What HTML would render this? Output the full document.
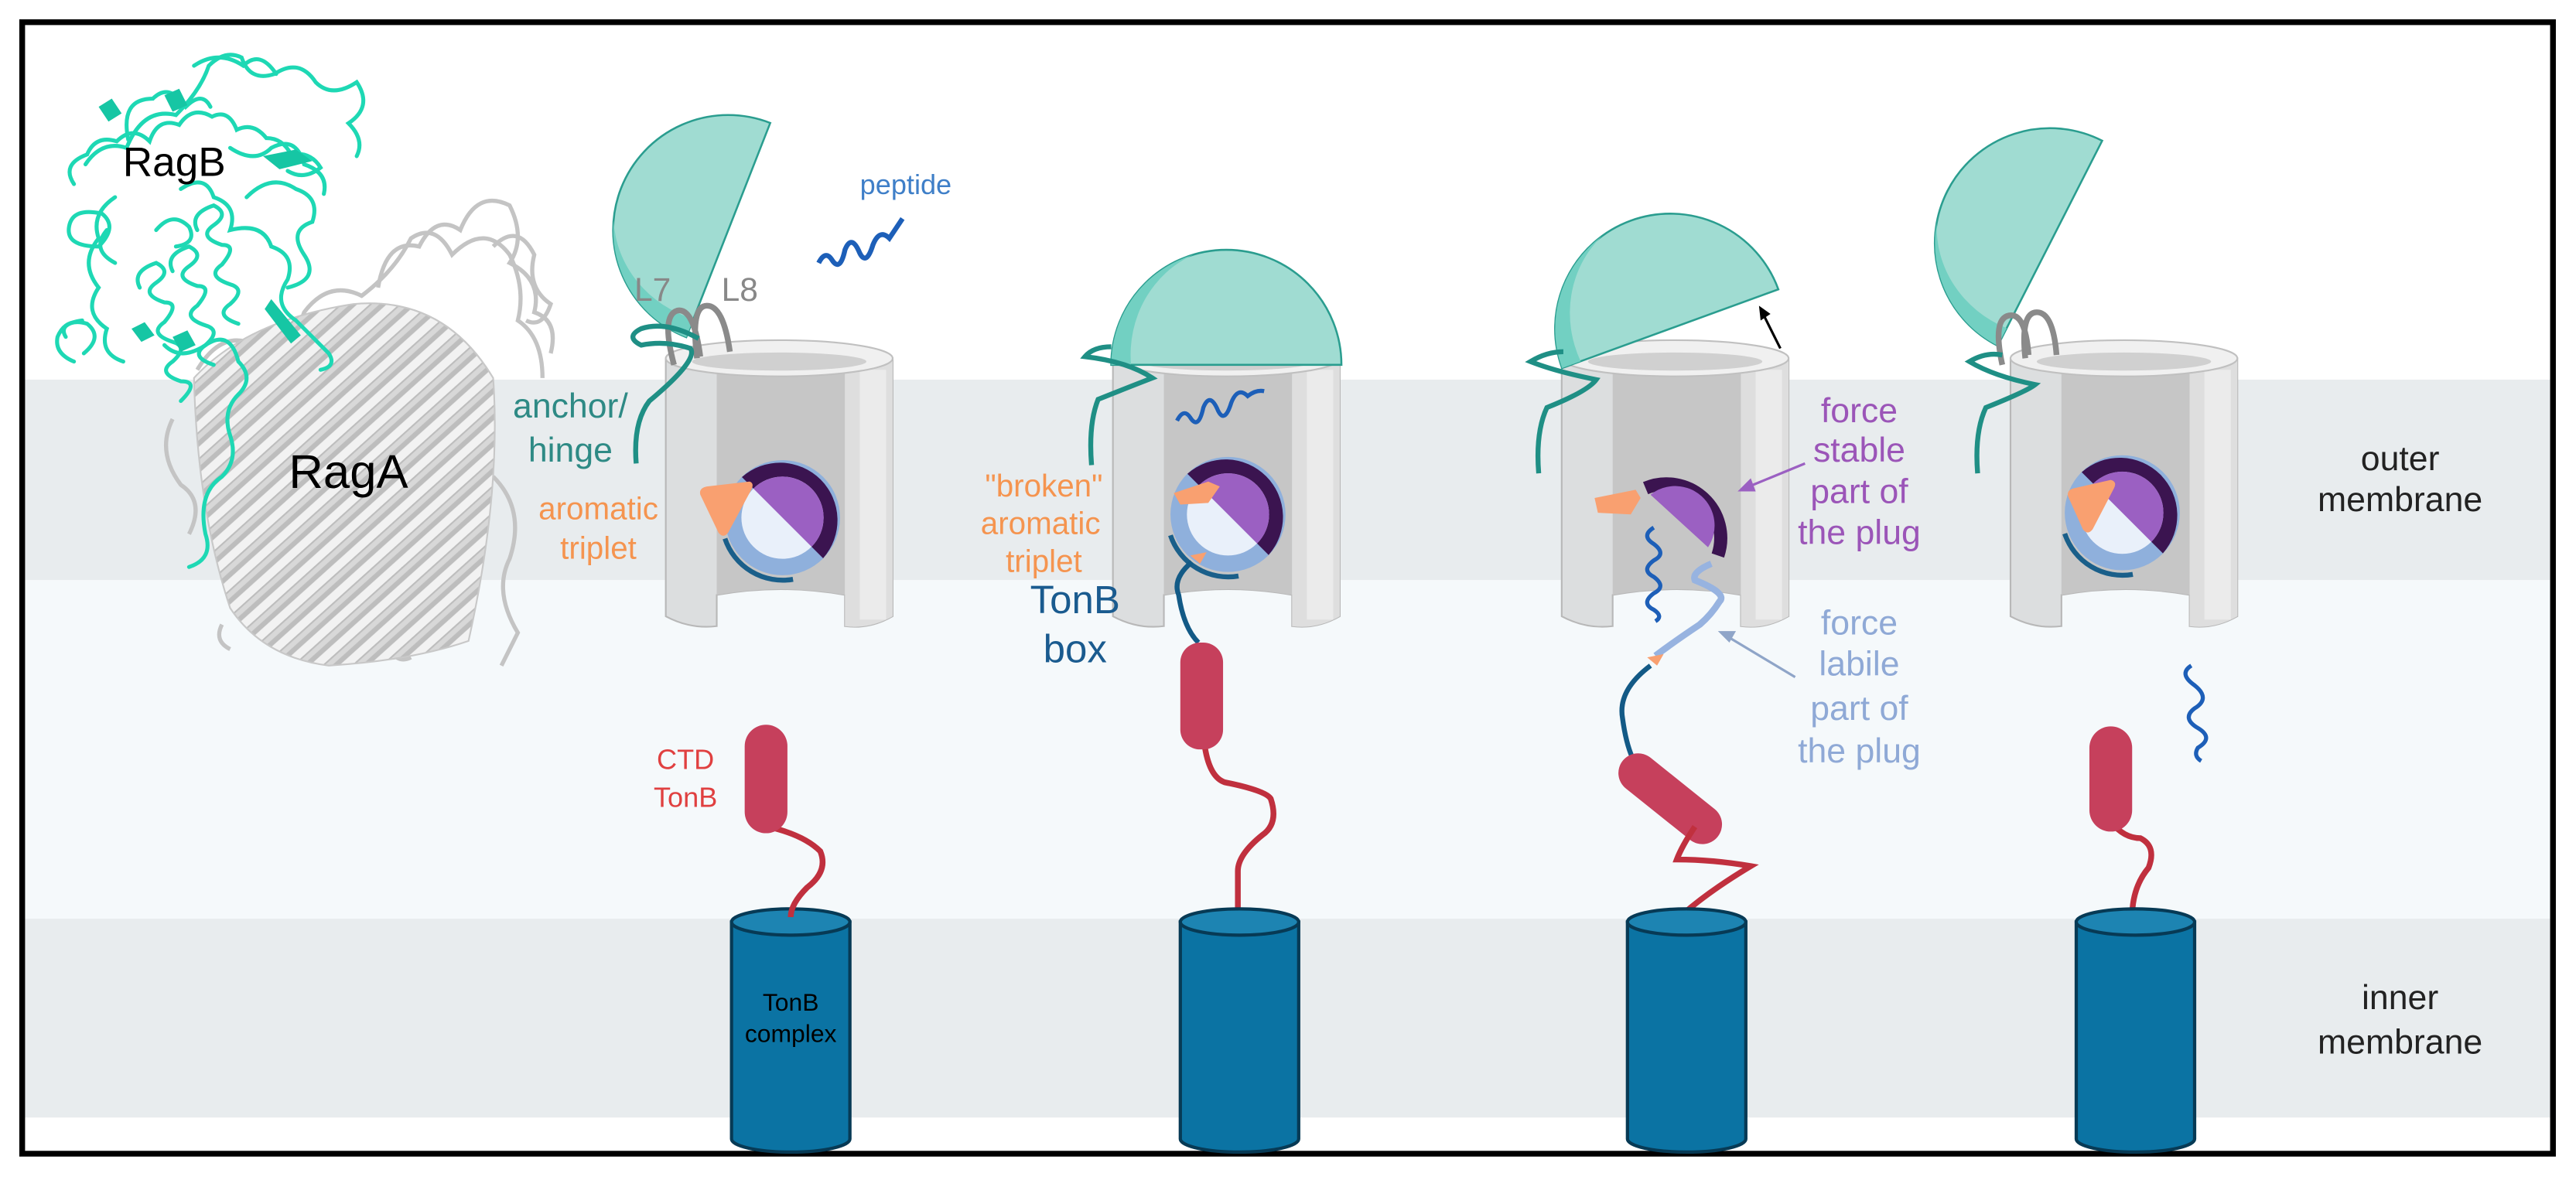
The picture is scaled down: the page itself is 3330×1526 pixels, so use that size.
<!DOCTYPE html>
<html><head><meta charset="utf-8"><style>
html,body{margin:0;padding:0;background:#fff;}
svg{display:block;}
text{font-family:"Liberation Sans",sans-serif;}
</style></head><body>
<svg width="3330" height="1526" viewBox="0 0 1567 718" preserveAspectRatio="none" xmlns="http://www.w3.org/2000/svg">
<defs>
<pattern id="strands" width="12" height="12" patternUnits="userSpaceOnUse" patternTransform="rotate(-42)">
<rect width="12" height="12" fill="#f2f2f2"/>
<rect width="12" height="7" fill="#bdbdbd"/>
<rect y="1" width="12" height="3" fill="#d8d8d8"/>
</pattern>
<g id="barrel">
<path d="M0 11 L0 168 Q15 176 31 174 L31 155 Q70 148 109 155 L109 174 Q124 176 138 168 L138 11 Z" fill="#dcdedf" stroke="#b8b8b8" stroke-width="1"/>
<path d="M31 16 L31 155 Q70 148 109 155 L109 16 Z" fill="#c6c6c6"/>
<path d="M109 16 L109 174 Q124 176 138 168 L138 11 Z" fill="#dedede"/>
<rect x="118" y="18" width="16" height="152" fill="#ebebeb"/>
<ellipse cx="69" cy="11" rx="69" ry="11" fill="#f0f0f0" stroke="#c0c0c0" stroke-width="1"/>
<ellipse cx="69" cy="13" rx="53" ry="5.5" fill="#d0d0d0"/>
</g>
<g id="plug">
<circle r="35" fill="#8fb0dc"/>
<path d="M-24.7 -24.7 A35 35 0 0 1 24.7 24.7 Z" fill="#3b1450"/>
<circle r="25" fill="#e9f0fa"/>
<path d="M-17.7 -17.7 A25 25 0 0 1 17.7 17.7 Z" fill="#9b60c2"/>
<path d="M-35 12.7 A37 37 0 0 0 6.4 37.5" fill="none" stroke="#1a5f8a" stroke-width="3"/>
</g>
<g id="lid">
<path d="M-70 0 A70 70 0 0 1 70 0 Z" fill="#a0dcd2" stroke="#2a9d8f" stroke-width="1.2"/>
<path d="M-70 0 A70 70 0 0 1 -20 -67 A62 66 0 0 0 -58 0 Z" fill="#72d0c2"/>
</g>
<g id="tonbcyl">
<path d="M0 8 L0 140 A36 8 0 0 0 72 140 L72 8 Z" fill="#0b73a3" stroke="#073a55" stroke-width="2"/>
<ellipse cx="36" cy="8" rx="36" ry="8" fill="#1d84b2" stroke="#073a55" stroke-width="2"/>
</g>
</defs>

<rect width="1567" height="718" fill="#fff"/>
<rect x="15" y="231" width="1537" height="122" fill="#e8ecee"/>
<rect x="15" y="353" width="1537" height="206" fill="#f5f9fb"/>
<rect x="15" y="559" width="1537" height="121" fill="#e8ecee"/>

<!-- RagA -->
<g fill="none" stroke="#c4c4c4" stroke-width="2.5">
<path d="M120 225 q15 -25 35 -15 q20 10 30 -20 q15 -20 35 -10 q20 -15 30 -35 q15 -10 25 10 q20 -20 35 0 q10 20 5 40 q15 10 15 35"/>
<path d="M230 175 q5 -30 25 -25 q10 -20 25 -10 q10 -25 30 -15 q10 20 0 35 q20 10 15 30 q15 5 10 25"/>
<path d="M300 150 q15 -15 25 5 q-5 20 10 30 q-5 15 -15 10"/>
<path d="M105 255 q-10 20 5 40 q15 10 5 30"/>
<path d="M300 290 q20 20 10 50 q-10 20 5 45 q-5 10 -10 20"/>
<path d="M250 400 q-10 5 -15 -10 M140 395 q-10 -5 -5 -15"/>
</g>
<path d="M118 230 Q150 195 215 185 Q270 180 300 230 Q305 300 285 390 Q250 402 200 405 Q160 400 140 370 Q120 310 118 230 Z" fill="url(#strands)" stroke="#c8c8c8" stroke-width="1"/>
<!-- RagB -->
<g fill="none" stroke="#1ed8b4" stroke-width="2.4" stroke-linecap="round">
<path d="M45 112 q-8 -12 8 -18 q5 -12 18 -8 q10 -10 20 0 q5 -15 18 -10 q8 -12 20 -5 q10 -5 15 8 q10 -5 18 5 q10 0 15 10 q12 -2 18 8 q-10 8 -20 2"/>
<path d="M52 100 q10 -15 25 -10 q10 -25 30 -20 q15 -15 20 -30 q10 -10 20 -5 q5 15 20 10 q15 -10 25 5 q10 10 25 0 q10 15 -5 25 q10 10 5 20"/>
<path d="M118 40 q15 -10 30 0 q10 -10 20 5 M78 85 q-5 -25 15 -25 q10 -10 20 5 q10 -10 15 0"/>
<path d="M60 150 q-20 0 -18 -12 q2 -12 20 -8 q10 8 -2 20 M70 160 q-15 -8 -5 -20"/>
<path d="M85 175 q-5 -10 10 -15 q10 5 0 12 q-10 7 5 12 q10 0 0 12 q-10 7 5 12 q10 3 0 12 q-10 7 5 12 q12 0 0 12"/>
<path d="M105 165 q-5 -10 10 -15 q10 5 0 12 q-10 7 5 12 q10 0 0 12 q-10 7 5 12 q10 3 0 12 q-10 7 5 12"/>
<path d="M120 140 q-5 -10 10 -15 q10 5 0 12 q-10 7 5 12 q10 0 0 12 q-10 7 5 12 q10 3 0 12 q-10 7 5 12"/>
<path d="M45 220 q-12 -5 -10 -15 q5 -12 18 -8 q10 8 -2 18 M40 205 q-5 -8 10 -10"/>
<path d="M110 115 q15 -10 20 5 q15 5 10 20 q20 -5 25 10 q15 5 10 20 q-10 15 5 25 l20 20 q5 8 -5 10"/>
<path d="M70 120 q-15 10 -10 25 q-12 15 0 30 q-10 15 5 25 q-5 15 10 20"/>
<path d="M150 120 q15 -15 30 -5 q15 5 10 20 q-15 5 -5 20 q10 15 -10 20"/>
<path d="M140 90 q15 10 25 0 q15 -8 20 10 q15 5 12 18"/>
<path d="M100 210 q10 10 25 0 q15 -10 20 10 q10 10 0 20 q-10 10 -5 25 q5 15 -5 25 q-15 10 -10 35 q5 15 -10 20"/>
<path d="M95 140 q10 -12 20 -2 q5 10 -8 12"/>
</g>
<g fill="#16c6a4"><path d="M60 65 l8 -5 l6 9 l-8 5Z M100 58 l9 -4 l5 10 l-9 4Z M160 95 l20 -4 l10 7 l-20 5Z M165 182 l18 22 l-6 5 l-16 -21Z M80 200 l8 -4 l6 8 l-8 4Z M105 205 l9 -4 l5 9 l-9 4Z"/></g>
<text x="106" y="107" font-size="25" fill="#000" text-anchor="middle">RagB</text>
<text x="212" y="297" font-size="29" fill="#000" text-anchor="middle">RagA</text>

<rect x="13.5" y="13.5" width="1539.5" height="688.5" fill="none" stroke="#000" stroke-width="3.5"/>

<!-- Unit 1 -->
<use href="#lid" transform="translate(443,140) rotate(-68.6)"/>
<use href="#barrel" x="405" y="207"/>
<g fill="none" stroke="#8a8a8a" stroke-width="3.5"><path d="M410 222 q-8 -30 2 -33 q10 -2 14 28 M424 218 q-4 -32 6 -32 q10 0 14 28"/></g>
<path d="M387 282 q-2 -25 8 -38 q30 -25 25 -32 q-15 -5 -30 -2 q-10 -5 0 -10 q15 -5 35 6" fill="none" stroke="#1f8f85" stroke-width="3"/>
<use href="#plug" x="476" y="315"/>
<path d="M426 301 Q425 297 430 296 L456 293 Q459 294 457 298 L443 324 Q440 328 437 324 Z" fill="#f9a070"/>
<text x="397" y="183" font-size="20" fill="#888" text-anchor="middle">L7</text>
<text x="450" y="183" font-size="20" fill="#888" text-anchor="middle">L8</text>
<text x="347" y="254" font-size="21" fill="#2e8a85" text-anchor="middle">anchor/</text>
<text x="347" y="281" font-size="21" fill="#2e8a85" text-anchor="middle">hinge</text>
<text x="364" y="316" font-size="19" fill="#f5944f" text-anchor="middle">aromatic</text>
<text x="364" y="340" font-size="19" fill="#f5944f" text-anchor="middle">triplet</text>
<text x="551" y="118" font-size="17" fill="#3f7fc8" text-anchor="middle">peptide</text>
<path d="M498 160 q4 -8 8 -2 q5 8 8 -6 q4 -10 9 2 q4 8 8 -5 q4 -10 10 -4 q4 -6 8 -12" fill="none" stroke="#1d5fb8" stroke-width="3"/>
<use href="#tonbcyl" x="445" y="553"/>
<text x="481" y="615" font-size="15" fill="#000" text-anchor="middle">TonB</text>
<text x="481" y="634" font-size="15" fill="#000" text-anchor="middle">complex</text>
<path d="M467 503 q22 5 32 15 q5 12 -8 22 q-10 10 -10 18" fill="none" stroke="#c0303e" stroke-width="3.5"/>
<rect x="453" y="441" width="26" height="66" rx="13" fill="#c6405c"/>
<text x="417" y="468" font-size="17" fill="#e04040" text-anchor="middle">CTD</text>
<text x="417" y="491" font-size="17" fill="#e04040" text-anchor="middle">TonB</text>

<!-- Unit 2 -->
<use href="#barrel" x="677" y="207"/>
<use href="#lid" transform="translate(746,222)"/>
<path d="M664 283 q-2 -25 4 -40 q20 -8 33 -13 q-15 -10 -41 -13 q5 -6 16 -6" fill="none" stroke="#1f8f85" stroke-width="3"/>
<path d="M716 256 q4 -8 8 -2 q5 8 8 -6 q4 -10 9 2 q4 8 8 -5 q4 -10 10 -4 q5 -4 10 -3" fill="none" stroke="#1d5fb8" stroke-width="2.5"/>
<use href="#plug" x="747" y="313"/>
<path d="M714 300 L735 293 L742 296 L735 306 L718 307 Z" fill="#f9a070"/>
<path d="M724 338 l10 -2 l-4 7 Z" fill="#f9a070"/>
<path d="M725 342 q-12 10 -8 20 q3 20 12 29" fill="none" stroke="#135a86" stroke-width="3"/>
<path d="M733 455 q3 18 12 21 q25 5 28 10 q5 15 -5 22 q-15 12 -15 22 q0 10 0 25" fill="none" stroke="#c0303e" stroke-width="3.5"/>
<rect x="718" y="391" width="26" height="65" rx="12" fill="#c6405c"/>
<use href="#tonbcyl" x="718" y="553"/>
<text x="635" y="302" font-size="19" fill="#f5944f" text-anchor="middle">"broken"</text>
<text x="633" y="325" font-size="19" fill="#f5944f" text-anchor="middle">aromatic</text>
<text x="635" y="348" font-size="19" fill="#f5944f" text-anchor="middle">triplet</text>
<text x="654" y="373" font-size="24" fill="#1a5b8f" text-anchor="middle">TonB</text>
<text x="654" y="403" font-size="24" fill="#1a5b8f" text-anchor="middle">box</text>

<!-- Unit 3 -->
<use href="#barrel" x="950" y="207"/>
<use href="#lid" transform="translate(1016,200) rotate(-20)"/>
<path d="M1083 212 L1073 192" stroke="#000" stroke-width="1.5"/>
<path d="M1070 186 l7 5 l-6 4 Z" fill="#000"/>
<path d="M936 288 q-2 -25 5 -40 q25 -10 30 -17 q-25 -5 -40 -11 q10 -6 20 -6" fill="none" stroke="#1f8f85" stroke-width="3"/>
<path d="M1001 297 A33 33 0 0 1 1045 338" fill="none" stroke="#3b1450" stroke-width="8"/>
<path d="M1004 301 A24 24 0 0 1 1039 333 Z" fill="#9b60c2"/>
<path d="M970 303 L995 298 L998 303 L992 313 L972 312 Z" fill="#f9a070"/>
<path d="M1041 343 q-12 5 -10 10 q20 8 15 13 q-5 8 -12 14 q-15 10 -27 19" fill="none" stroke="#97b3e0" stroke-width="4"/>
<path d="M1002 400 l10 -2 l-4 7 Z" fill="#f9a070"/>
<path d="M1004 405 q-20 15 -17 32 q2 15 6 24" fill="none" stroke="#135a86" stroke-width="3"/>
<path d="M1006 321 q-8 5 0 10 q8 6 0 10 q-8 6 0 10 q8 6 0 10 q-8 6 0 10 q6 4 1 7" fill="none" stroke="#1d5fb8" stroke-width="2.5"/>
<g transform="translate(1016,486) rotate(38.7)"><rect x="-37" y="-12" width="74" height="24" rx="12" fill="#c6405c"/></g>
<path d="M1031 503 q-8 12 -11 20 q22 0 45 4 q-25 15 -41 29" fill="none" stroke="#c0303e" stroke-width="3.5"/>
<use href="#tonbcyl" x="990" y="553"/>
<path d="M1098 282 L1064 296" stroke="#9b60c2" stroke-width="1.5"/>
<path d="M1057 299 l8 -8 l3 8 Z" fill="#9b60c2"/>
<path d="M1092 412 L1052 388" stroke="#8fa5c8" stroke-width="1.5"/>
<path d="M1045 384 l11 0 l-4 7 Z" fill="#8fa5c8"/>
<g font-size="21" fill="#9b55b8" text-anchor="middle">
<text x="1131" y="257">force</text><text x="1131" y="281">stable</text><text x="1131" y="306">part of</text><text x="1131" y="331">the plug</text></g>
<g font-size="21" fill="#8fa9d6" text-anchor="middle">
<text x="1131" y="386">force</text><text x="1131" y="411">labile</text><text x="1131" y="438">part of</text><text x="1131" y="464">the plug</text></g>

<!-- Unit 4 -->
<use href="#lid" transform="translate(1247,148) rotate(-63)"/>
<use href="#barrel" x="1223" y="207"/>
<g fill="none" stroke="#8a8a8a" stroke-width="3.5"><path d="M1218 222 q-6 -28 4 -30 q10 -2 12 24 M1232 218 q-3 -28 7 -28 q10 0 12 26"/></g>
<path d="M1203 288 q-2 -25 5 -40 q25 -10 30 -14 q-25 -5 -40 -14 q10 -6 20 -4" fill="none" stroke="#1f8f85" stroke-width="3"/>
<use href="#plug" x="1291" y="312"/>
<path d="M1258 302 Q1257 298 1262 297 L1284 292 Q1288 293 1286 297 L1273 322 Q1270 326 1267 322 Z" fill="#f9a070"/>
<path d="M1333 405 q-8 5 2 12 q10 8 0 14 q-8 6 2 12 q10 6 0 12 q-3 5 2 8" fill="none" stroke="#1d5fb8" stroke-width="2.5"/>
<path d="M1284 500 q8 10 18 10 q10 5 5 18 q-10 12 -10 30" fill="none" stroke="#c0303e" stroke-width="3.5"/>
<rect x="1271" y="442" width="26" height="64" rx="13" fill="#c6405c"/>
<use href="#tonbcyl" x="1263" y="553"/>

<g font-size="21" fill="#222" text-anchor="middle">
<text x="1460" y="286">outer</text><text x="1460" y="311">membrane</text>
<text x="1460" y="614">inner</text><text x="1460" y="641">membrane</text></g>
</svg>
</body></html>
